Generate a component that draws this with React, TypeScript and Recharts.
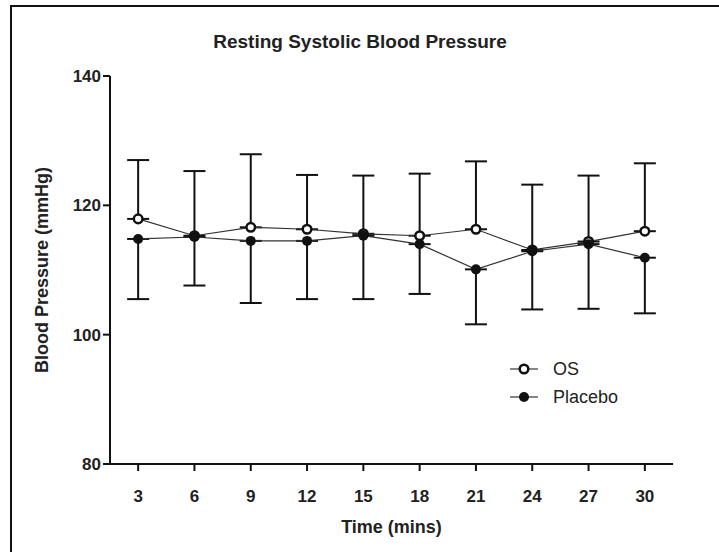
import { LineChart, Line, XAxis, YAxis, ErrorBar } from 'recharts'

const times = [3, 6, 9, 12, 15, 18, 21, 24, 27, 30]
const osMean = [117.9, 115.3, 116.6, 116.3, 115.6, 115.3, 116.3, 113.1, 114.4, 116.0]
const osSd = [9.1, 10.0, 11.3, 8.4, 9.0, 9.6, 10.5, 10.1, 10.2, 10.5]
const placeboMean = [114.8, 115.1, 114.5, 114.5, 115.3, 114.0, 110.1, 112.9, 114.0, 111.9]
const placeboSd = [9.3, 7.5, 9.6, 9.0, 9.8, 7.7, 8.5, 9.0, 10.0, 8.6]
const xTicks = [3, 6, 9, 12, 15, 18, 21, 24, 27, 30]
const yTicks = [80, 100, 120, 140]
const seriesNames = ['OS', 'Placebo']

// OS shows the upper whisker only, Placebo the lower one (GraphPad style)
const data = times.map((t, i) => ({
  time: t,
  os: osMean[i],
  osErr: [0, osSd[i]],
  placebo: placeboMean[i],
  placeboErr: [placeboSd[i], 0],
}))

const FONT = '"Liberation Sans", Arial, sans-serif'
const INK = '#111'

function ChartLegend() {
  return (
    <div style={{ position: 'absolute', left: 510, top: 355, fontFamily: FONT, fontSize: 18, color: '#222' }}>
      {seriesNames.map((name) => {
        const open = name === 'OS'
        return (
          <div key={name} style={{ display: 'flex', alignItems: 'center', height: 28 }}>
            <svg width={28} height={14} style={{ marginRight: 15 }}>
              <line x1={0} y1={7} x2={28} y2={7} stroke="#333" strokeWidth={1.2} />
              <circle cx={14} cy={7} r={open ? 4.3 : 5} fill={open ? '#fff' : INK}
                stroke={INK} strokeWidth={open ? 2.5 : 0} />
            </svg>
            <span>{name}</span>
          </div>
        )
      })}
    </div>
  )
}

export default function App() {
  return (
    <div style={{ position: 'absolute', left: 0, top: 0, width: 719, height: 552, background: '#fff' }}>
      <div style={{
        position: 'absolute', left: 10, top: 5, width: 707, height: 545,
        borderLeft: `2px solid ${INK}`, borderTop: `2px solid ${INK}`,
      }} />
      <div style={{
        position: 'absolute', left: 360, top: 31, transform: 'translateX(-50%)', whiteSpace: 'nowrap',
        fontFamily: FONT, fontWeight: 'bold', fontSize: 19, lineHeight: '22px', color: '#222',
      }}>
        Resting Systolic Blood Pressure
      </div>
      <LineChart width={719} height={552} data={data}
        margin={{ top: 76, right: 46, left: 10, bottom: 18 }}
        style={{ position: 'absolute', left: 0, top: 0 }}>
        <XAxis dataKey="time" type="number" domain={[1.5, 31.5]} ticks={xTicks}
          allowDataOverflow height={70}
          axisLine={{ stroke: INK, strokeWidth: 2 }} tickLine={{ stroke: INK, strokeWidth: 2 }}
          tickSize={7} tickMargin={19}
          tick={{ fill: '#222', fontSize: 17, fontWeight: 'bold', fontFamily: FONT }}
          label={{ value: 'Time (mins)', position: 'insideBottom', offset: 1,
            style: { fill: '#222', fontSize: 18, fontWeight: 'bold', fontFamily: FONT } }} />
        <YAxis type="number" domain={[80, 140]} ticks={yTicks} width={100}
          axisLine={{ stroke: INK, strokeWidth: 2 }} tickLine={{ stroke: INK, strokeWidth: 2 }}
          tickSize={7} tickMargin={2}
          tick={{ fill: '#222', fontSize: 17, fontWeight: 'bold', fontFamily: FONT }}
          label={{ value: 'Blood Pressure (mmHg)', angle: -90, position: 'insideLeft', offset: 32,
            style: { textAnchor: 'middle', fill: '#222', fontSize: 18, fontWeight: 'bold', fontFamily: FONT } }} />
        <Line dataKey="os" name="OS" stroke="#333" strokeWidth={1.2} isAnimationActive={false}
          dot={{ r: 4.3, fill: '#fff', stroke: INK, strokeWidth: 2.5 }} activeDot={false}>
          <ErrorBar dataKey="osErr" direction="y" width={11} stroke={INK} strokeWidth={2} isAnimationActive={false} />
        </Line>
        <Line dataKey="placebo" name="Placebo" stroke="#333" strokeWidth={1.2} isAnimationActive={false}
          dot={{ r: 5, fill: INK, stroke: INK, strokeWidth: 0 }} activeDot={false}>
          <ErrorBar dataKey="placeboErr" direction="y" width={11} stroke={INK} strokeWidth={2} isAnimationActive={false} />
        </Line>
      </LineChart>
      <ChartLegend />
    </div>
  )
}
